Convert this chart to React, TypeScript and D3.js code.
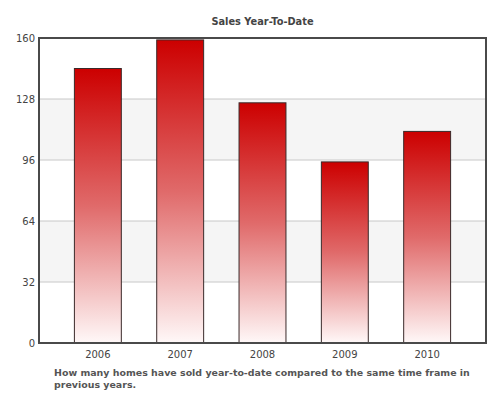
import React from "react";
import * as d3 from "d3";

const years = ["2006", "2007", "2008", "2009", "2010"];
const sales = [144, 159, 126, 95, 111];
const yTicks = [0, 32, 64, 96, 128, 160];
const title = "Sales Year-To-Date";
const captionLines = [
  "How many homes have sold year-to-date compared to the same time frame in",
  "previous years.",
];

const W = 500;
const H = 406;
const m = { left: 39, right: 14, top: 38, bottom: 63 };
const FONT = "'DejaVu Sans', Verdana, sans-serif";

export default function App() {
  const x = d3
    .scaleBand<string>()
    .domain(years)
    .range([m.left, W - m.right])
    .paddingInner(0.43)
    .paddingOuter(0.43);
  const y = d3.scaleLinear().domain([0, 160]).range([H - m.bottom, m.top]);
  const cx = (m.left + W - m.right) / 2;

  const bands = d3.pairs(yTicks).filter((_, i) => i % 2 === 1);

  return (
    <div style={{ position: "absolute", left: 0, top: 0 }}>
      <svg width={W} height={H} style={{ display: "block", background: "#fff" }}>
        <defs>
          <linearGradient id="barGrad" x1="0" y1="0" x2="0" y2="1">
            <stop offset="0%" stopColor="#cc0000" />
            <stop offset="50%" stopColor="#e06a6a" />
            <stop offset="100%" stopColor="#fff8f8" />
          </linearGradient>
        </defs>
        <text
          x={cx}
          y={25}
          textAnchor="middle"
          fontFamily={FONT}
          fontWeight="bold"
          fontSize={9.8}
          fill="#444"
        >
          {title}
        </text>
        {bands.map(([a, b]) => (
          <rect
            key={a}
            x={m.left}
            y={y(b)}
            width={W - m.right - m.left}
            height={y(a) - y(b)}
            fill="#f5f5f5"
          />
        ))}
        {yTicks.slice(1, -1).map((t) => (
          <line
            key={t}
            x1={m.left}
            x2={W - m.right}
            y1={y(t)}
            y2={y(t)}
            stroke="#c8c8c8"
            strokeWidth={1}
          />
        ))}
        {years.map((yr, i) => (
          <rect
            key={yr}
            x={x(yr)}
            y={y(sales[i])}
            width={x.bandwidth()}
            height={y(0) - y(sales[i])}
            fill="url(#barGrad)"
            stroke="#3a2a2a"
            strokeWidth={1}
          />
        ))}
        <rect
          x={m.left}
          y={m.top}
          width={W - m.right - m.left}
          height={y(0) - m.top}
          fill="none"
          stroke="#4a4a4a"
          strokeWidth={2}
        />
        {yTicks.map((t) => (
          <text
            key={t}
            x={m.left - 4}
            y={y(t)}
            dy="0.35em"
            textAnchor="end"
            fontFamily={FONT}
            fontSize={10}
            fill="#444"
          >
            {t}
          </text>
        ))}
        {years.map((yr) => (
          <text
            key={yr}
            x={(x(yr) as number) + x.bandwidth() / 2}
            y={358}
            textAnchor="middle"
            fontFamily={FONT}
            fontSize={10}
            fill="#444"
          >
            {yr}
          </text>
        ))}
        {captionLines.map((l, i) => (
          <text
            key={i}
            x={54}
            y={376 + i * 12}
            fontFamily={FONT}
            fontWeight="bold"
            fontSize={9.45}
            fill="#555"
          >
            {l}
          </text>
        ))}
      </svg>
    </div>
  );
}
